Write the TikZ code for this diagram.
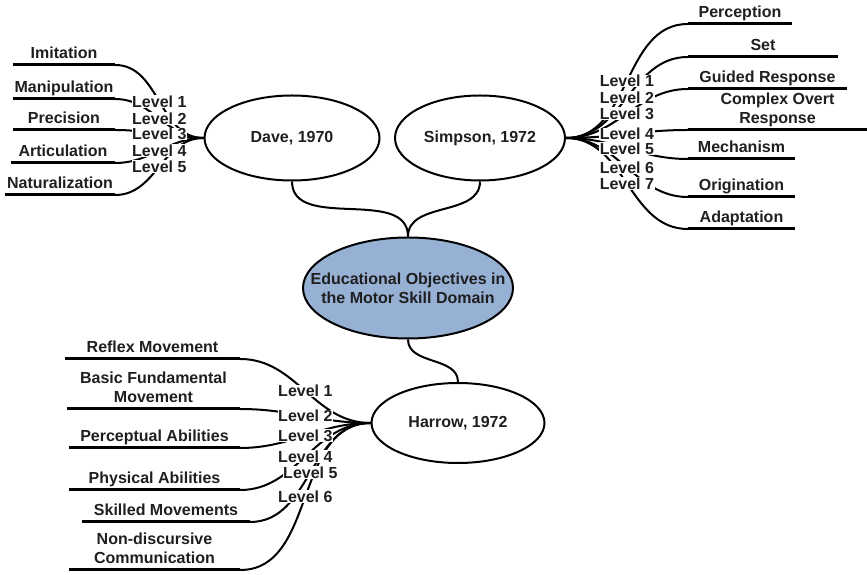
\documentclass[tikz,border=0pt]{standalone}
\usepackage{fontspec}
\setmainfont{Liberation Sans}
\usetikzlibrary{shapes.geometric}
\definecolor{domainblue}{RGB}{150,177,212}

\begin{document}
\begin{tikzpicture}[x=1pt, y=1pt,
    every node/.style={font=\bfseries\fontsize{16}{19}\selectfont, text=black!88},
    topic/.style={ellipse, draw, line width=2pt, inner sep=0pt, align=center},
    item/.style={anchor=south, inner xsep=0pt, inner ysep=2.5pt, text depth=3.5pt, align=center},
    underline/.style={line width=3pt},
    branch/.style={line width=2pt},
    level/.style={fill=white, inner sep=0.6pt}]
\useasboundingbox (0,0) rectangle (867,575);

% the four ellipses
\node[topic, minimum width=175pt, minimum height=85pt] (dave) at (292,437) {Dave, 1970};
\node[topic, minimum width=170pt, minimum height=85pt] (simpson) at (480,437) {Simpson, 1972};
\node[topic, fill=domainblue, minimum width=210pt, minimum height=101pt] (domain) at (408,287) {};
\node[align=center] (domaintext) at (domain.center) {Educational Objectives in\\the Motor Skill Domain};
\node[topic, minimum width=173pt, minimum height=80pt] (harrow) at (458,152) {Harrow, 1972};

\draw[branch] (dave.south) to[out=-90,in=90] (domain.north);
\draw[branch] (simpson.south) to[out=-90,in=90] (domain.north);
\draw[branch] (domain.south) to[out=-90,in=90] (harrow.north);

% Dave
\foreach \n/\x/\y/\w/\t in {1/64/510/102/Imitation, 2/64/476/102/Manipulation,
	3/64/445/102/Precision, 4/63/412/104/Articulation, 5/60/380/110/Naturalization} {
    \node[item, minimum width=\w pt] (dv\n) at (\x,\y) {\t};
    \draw[underline] (dv\n.south west) -- (dv\n.south east);
    \draw[branch] (dv\n.south east) to[out=0,in=180] coordinate[pos=0.5] (dvmid\n) (dave.west);
}
\foreach \n in {1,...,5}
    \node[level] (dvlev\n) at (dvmid\n) {Level \n};

% Simpson
\foreach \n/\x/\y/\w/\t in {1/740/551/104/Perception, 2/763/518/150/Set,
	3/767.5/486/159/Guided Response, 4/777.5/445/179/Complex Overt\\Response,
	5/741.5/416/107/Mechanism, 6/741.5/378/107/Origination, 7/741.5/346/107/Adaptation} {
    \node[item, minimum width=\w pt] (sp\n) at (\x,\y) {\t};
    \draw[underline] (sp\n.south west) -- (sp\n.south east);
    \draw[branch] (simpson.east) to[out=0,in=180] coordinate[pos=0.5] (spmid\n) (sp\n.south west);
}
\foreach \n in {1,...,7}
    \node[level] (splev\n) at (spmid\n) {Level \n};

% Harrow
\foreach \n/\x/\y/\w/\t in {1/152.5/216/175/Reflex Movement, 2/153.5/166/173/Basic Fundamental\\Movement,
	3/154.5/127/171/Perceptual Abilities, 4/154.5/85/171/Physical Abilities,
	5/166/53/168/Skilled Movements, 6/154.5/5/171/Non-discursive\\Communication} {
    \node[item, minimum width=\w pt] (hw\n) at (\x,\y) {\t};
    \draw[underline] (hw\n.south west) -- (hw\n.south east);
    \draw[branch] (hw\n.south east) to[out=0,in=180] coordinate[pos=0.5] (hwmid\n) (harrow.west);
}
\foreach \n in {1,...,6}
    \node[level] (hwlev\n) at (hwmid\n) {Level \n};
\end{tikzpicture}
\end{document}
